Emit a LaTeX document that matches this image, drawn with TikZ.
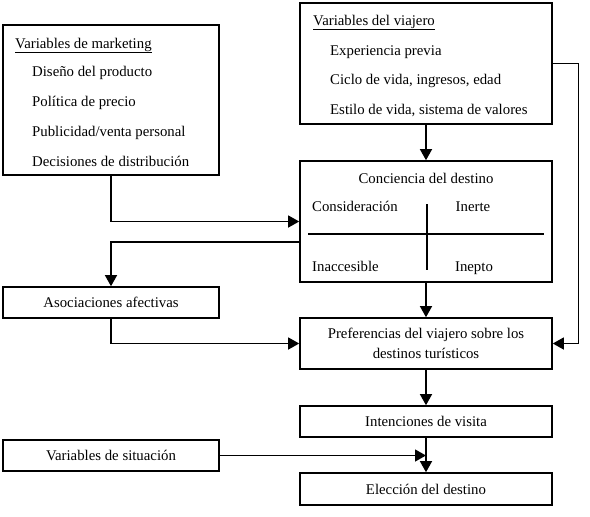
\documentclass[tikz,border=0pt]{standalone}
\usepackage{fontspec}
\setmainfont{Liberation Serif}
\usetikzlibrary{arrows.meta}

\begin{document}
\begin{tikzpicture}[x=1pt,y=-1pt,font=\fontsize{14.8}{20}\selectfont,
  box/.style={draw,line width=1.6pt,inner sep=0pt,align=center},
  wide/.style={box,minimum width=252pt},
  narrow/.style={box,minimum width=216pt},
  txt/.style={anchor=base west,inner sep=0pt},
  arr/.style={line width=1.3pt,-{Triangle[length=11pt,width=12pt]}}]
  \useasboundingbox (0,0) rectangle (590,517);
  % left boxes
  \node[narrow,minimum height=150pt] (mkt) at (111,100) {};
  \node[narrow,minimum height=31pt] (asoc) at (111,302.5) {Asociaciones afectivas};
  \node[narrow,minimum height=31pt] (situ) at (111,455.5) {Variables de situación};
  % right boxes
  \node[wide,minimum height=121pt] (viaj) at (426,63.5) {};
  \node[wide,minimum height=121pt] (conc) at (426,221.5) {};
  \node[wide,minimum height=51pt] (pref) at (426,343.5) {Preferencias del viajero sobre los\\destinos turísticos};
  \node[wide,minimum height=31pt] (inten) at (426,421.5) {Intenciones de visita};
  \node[wide,minimum height=32pt] (elec) at (426,489) {Elección del destino};
  % texts in the boxes
  \node[txt] (mkt0) at (15,48) {\underline{Variables de marketing}};
  \node[txt] (mkt1) at (32,76) {Diseño del producto};
  \node[txt] (mkt2) at (32,106) {Política de precio};
  \node[txt] (mkt3) at (32,136) {Publicidad/venta personal};
  \node[txt] (mkt4) at (32,166) {Decisiones de distribución};
  \node[txt] (viaj0) at (313,25) {\underline{Variables del viajero}};
  \node[txt] (viaj1) at (330,55) {Experiencia previa};
  \node[txt] (viaj2) at (330,84) {Ciclo de vida, ingresos, edad};
  \node[txt] (viaj3) at (330,114) {Estilo de vida, sistema de valores};
  \node[anchor=base,inner sep=0pt] (conc0) at (426,183) {Conciencia del destino};
  \node[txt] (cons) at (312,211) {Consideración};
  \node[anchor=base,inner sep=0pt] (iner) at (473,211) {Inerte};
  \node[txt] (inac) at (312,271) {Inaccesible};
  \node[anchor=base,inner sep=0pt] (inep) at (474,271) {Inepto};
  \draw[line width=1.6pt] (308,234) -- (544,234);
  \draw[line width=1.3pt] (427,204) -- (427,270);
  % arrows
  \draw[arr] (viaj) -- (conc);
  \draw[arr] (conc) -- (pref);
  \draw[arr] (pref) -- (inten);
  \draw[arr] (inten) -- (elec);
  \draw[arr] (mkt.south) |- (conc.west);
  \draw[arr] ([yshift=-20.5pt]conc.west) -| (asoc.north);
  \draw[arr] (asoc.south) |- (pref.west);
  \draw[arr] (viaj.east) -- ++(26,0) |- (pref.east);
  \draw[arr] (situ.east) -- (inten.south |- situ.east);
\end{tikzpicture}
\end{document}
